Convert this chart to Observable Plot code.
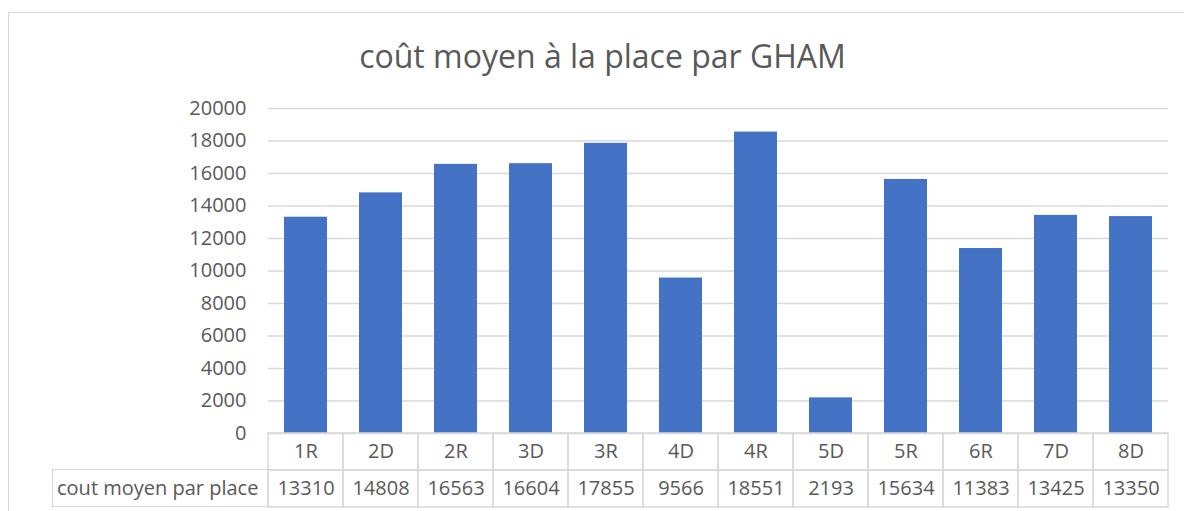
<!DOCTYPE html>
<html><head><meta charset="utf-8">
<script src="https://cdn.jsdelivr.net/npm/d3@7"></script>
<script src="https://cdn.jsdelivr.net/npm/@observablehq/plot@0.6"></script>
<style>
body{margin:0;background:#fff;width:1184px;height:511px;overflow:hidden;position:relative;font-family:"Open Sans",sans-serif;color:#595959}
#frame{position:absolute;left:8px;top:12px;width:1300px;height:600px;border:1.5px solid #d9d9d9;box-sizing:border-box}
#title{position:absolute;left:0;width:1205px;top:40px;text-align:center;font-size:32px;line-height:1;white-space:nowrap}
#chart{position:absolute;left:0;top:0}
#table{position:absolute;left:0;top:432px}
#lab{position:absolute;left:52px;top:469px;width:217px;height:38px;border:1.5px solid #d9d9d9;box-sizing:border-box;font-size:20px;line-height:35px;padding-left:4px;white-space:nowrap}
</style></head>
<body>
<div id="frame"></div>
<div id="title"></div>
<div id="chart"></div>
<div id="table"></div>
<div id="lab"></div>
<script>
const title = "coût moyen à la place par GHAM";
const rowLabel = "cout moyen par place";
const categories = ["1R","2D","2R","3D","3R","4D","4R","5D","5R","6R","7D","8D"];
const values = [13310,14808,16563,16604,17855,9566,18551,2193,15634,11383,13425,13350];
const yTicks = [0,2000,4000,6000,8000,10000,12000,14000,16000,18000,20000];

const data = categories.map((c,i)=>({cat:c, value:values[i]}));
const gray = "#595959", grid = "#d9d9d9", blue = "#4472c4";

document.getElementById("title").textContent = title;
document.getElementById("lab").textContent = rowLabel;

const chart = Plot.plot({
  width: 1184, height: 440,
  marginTop: 108, marginBottom: 7, marginLeft: 268, marginRight: 16,
  style: {fontFamily: "'Open Sans', sans-serif", fontSize: "20px", color: gray, background: "transparent", overflow: "visible"},
  x: {domain: categories, paddingInner: 0.427, paddingOuter: 0.2135, axis: null},
  y: {domain: [0, 20000], ticks: yTicks},
  marks: [
    Plot.gridY(yTicks, {stroke: grid, strokeOpacity: 1, strokeWidth: 1.5}),
    Plot.axisY(yTicks, {tickSize: 0, tickPadding: 22, tickFormat: d => String(d), fontSize: 20, fill: gray, label: null}),
    Plot.barY(data, {x: "cat", y: "value", fill: blue})
  ]
});
document.getElementById("chart").appendChild(chart);

const rows = ["cat", "val"];
const cells = [];
data.forEach(d => {
  cells.push({cat: d.cat, row: "cat", text: d.cat});
  cells.push({cat: d.cat, row: "val", text: String(d.value)});
});
const table = Plot.plot({
  width: 1184, height: 76,
  marginTop: 1, marginBottom: 1, marginLeft: 268, marginRight: 16,
  style: {fontFamily: "'Open Sans', sans-serif", fontSize: "20px", color: gray, background: "transparent", overflow: "visible"},
  x: {domain: categories, padding: 0, axis: null},
  y: {domain: rows, padding: 0, axis: null},
  marks: [
    Plot.cell(cells, {x: "cat", y: "row", fill: "none", stroke: grid, strokeWidth: 1.5}),
    Plot.text(cells, {x: "cat", y: "row", text: "text", fill: gray, fontSize: 20})
  ]
});
document.getElementById("table").appendChild(table);
</script>
</body></html>
